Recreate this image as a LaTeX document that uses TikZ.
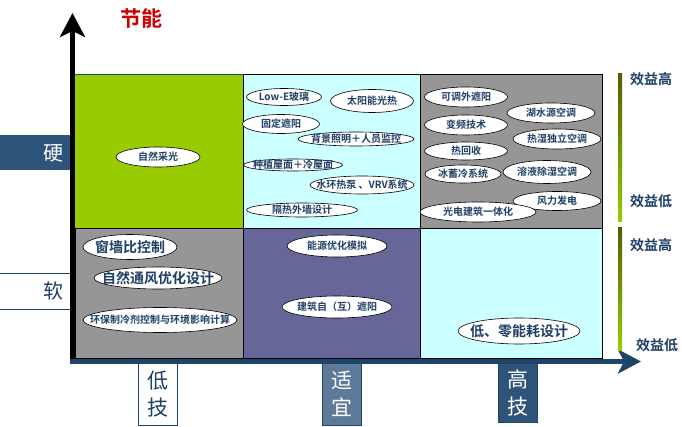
\documentclass[tikz,border=0pt]{standalone}
\usepackage{fontspec}
\newfontfamily\cjk{Noto Sans CJK SC}[BoldFont={Noto Sans CJK SC Bold}]
\usetikzlibrary{shapes.geometric,arrows.meta}
\definecolor{cgreen}{HTML}{99CC00}
\definecolor{ccyan}{HTML}{CCFFFF}
\definecolor{cgray}{HTML}{969696}
\definecolor{cpurple}{HTML}{666699}
\definecolor{txtblue}{HTML}{1F3F66}
\definecolor{axisblue}{HTML}{1F4469}
\definecolor{boxblue}{HTML}{2F5479}
\definecolor{boxmid}{HTML}{5E7A99}
\definecolor{olive}{HTML}{4E6000}
\definecolor{titlered}{HTML}{CC0000}
\tikzset{
  ell/.style={ellipse, draw=black, line width=0.6pt, fill=white, inner sep=0pt},
  etxt/.style={inner sep=0pt, text=txtblue, font=\cjk\bfseries\fontsize{10}{10}\selectfont},
  etxtbig/.style={etxt, font=\cjk\bfseries\fontsize{14}{14}\selectfont},
  cell/.style={draw=black, line width=0.8pt},
  vlab/.style={draw=axisblue, line width=0.8pt, inner sep=0pt, minimum width=39pt,
    align=center, font=\cjk\fontsize{21}{27}\selectfont},
  gain/.style={text=txtblue, font=\cjk\bfseries\fontsize{14}{14}\selectfont, inner sep=0pt}
}
% ellipse + text: \myoval[style]{name}{x,y}{w}{h}{text}
\newcommand\myoval[6][etxt]{%
  \node[ell, minimum width=#4pt, minimum height=#5pt] (#2) at (#3) {};
  \node[#1] (#2t) at (#2) {#6};}
\begin{document}
\begin{tikzpicture}[x=1pt,y=-1pt]
\useasboundingbox (0,0) rectangle (682,427);
% cells
\fill[cgreen] (75,74) rectangle (243,228);
\draw[cell, fill=ccyan] (243,74) rectangle (420,228);
\draw[cell, fill=cgray] (420,74) rectangle (602,228);
\draw[cell, fill=cgray] (75,228) rectangle (243,358);
\draw[cell, fill=cpurple] (243,228) rectangle (420,358);
\draw[cell, fill=ccyan] (420,228) rectangle (602,358);
\draw[teal!70!black, line width=0.8pt] (75,74) -- (243,74);
\draw[black, line width=0.8pt] (75,228) -- (243,228);
% axes
\coordinate (yb) at (72.5,362);
\coordinate (yt) at (72.5,13);
\coordinate (xb) at (70,361.5);
\coordinate (xt) at (641,361.5);
\draw[black, line width=5pt, -{Stealth[length=24pt,width=25pt,inset=6pt]}] (yb) -- (yt);
\draw[axisblue, line width=5pt, -{Stealth[length=23pt,width=24pt,inset=6pt]}] (xb) -- (xt);
% title
\node[text=titlered, font=\cjk\bfseries\fontsize{21}{21}\selectfont, inner sep=0pt] (title) at (141,18) {节能};
% left labels
\fill[boxblue] (0,135) rectangle (70,170);
\node[text=white, font=\cjk\fontsize{20}{20}\selectfont, inner sep=0pt] (hard) at (53,153) {硬};
\draw[axisblue, line width=0.8pt] (0,273) -- (70,273);
\draw[axisblue, line width=0.8pt] (0,309) -- (70,309);
\node[text=txtblue, font=\cjk\fontsize{20}{20}\selectfont, inner sep=0pt] (soft) at (53,291) {软};
% bottom labels
\node[vlab, fill=white, text=txtblue, minimum height=62pt] (low) at (157.5,394) {低\\技};
\node[vlab, fill=boxmid, text=white, minimum height=62pt] (mid) at (341.5,394) {适\\宜};
\node[vlab, fill=boxblue, text=white, minimum height=59pt] (high) at (517.5,392.5) {高\\技};
% right legend
\shade[top color=olive, bottom color=cgreen] (618,74) rectangle (622,222);
\shade[top color=olive, bottom color=cgreen] (618,228) rectangle (622,350);
\node[gain] (g1) at (651,79) {效益高};
\node[gain] (g2) at (651,201) {效益低};
\node[gain] (g3) at (651,245) {效益高};
\node[gain] (g4) at (657,345) {效益低};
% top-left
\myoval{e1}{158,157}{84}{20}{自然采光}
% top-middle
\myoval{e2}{284,97}{75}{17}{Low-E玻璃}
\myoval{e3}{372,101}{83}{23}{太阳能光热}
\myoval{e4}{281,124}{77}{19}{固定遮阳}
\myoval{e5}{356,139}{116}{14}{背景照明＋人员监控}
\myoval{e6}{293,165}{99}{12}{种植屋面＋冷屋面}
\myoval{e7}{362,185}{104}{18}{水环热泵 、VRV系统}
\myoval{e8}{302,210}{111}{14}{隔热外墙设计}
% top-right
\myoval{e9}{466,97}{83}{20}{可调外遮阳}
\myoval{e10}{551,113}{88}{20}{湖水源空调}
\myoval{e11}{466,125}{83}{20}{变频技术}
\myoval{e12}{557,139}{88}{20}{热湿独立空调}
\myoval{e13}{466,151}{83}{18}{热回收}
\myoval{e14}{463,174}{76}{18}{冰蓄冷系统}
\myoval{e15}{547,172}{88}{23}{溶液除湿空调}
\myoval{e16}{557,201}{88}{19}{风力发电}
\myoval{e17}{478,212}{116}{20}{光电建筑一体化}
% bottom-left
\myoval[etxtbig]{e18}{130,247}{94}{25}{窗墙比控制}
\myoval[etxtbig]{e19}{158,278}{128}{22}{自然通风优化设计}
\myoval{e20}{160,320}{154}{25}{环保制冷剂控制与环境影响计算}
% bottom-middle
\myoval{e21}{337,246}{100}{22}{能源优化模拟}
\myoval{e22}{337,307}{110}{22}{建筑自（互）遮阳}
% bottom-right
\myoval[etxtbig]{e23}{519,331}{122}{26}{低、零能耗设计}
\end{tikzpicture}
\end{document}
